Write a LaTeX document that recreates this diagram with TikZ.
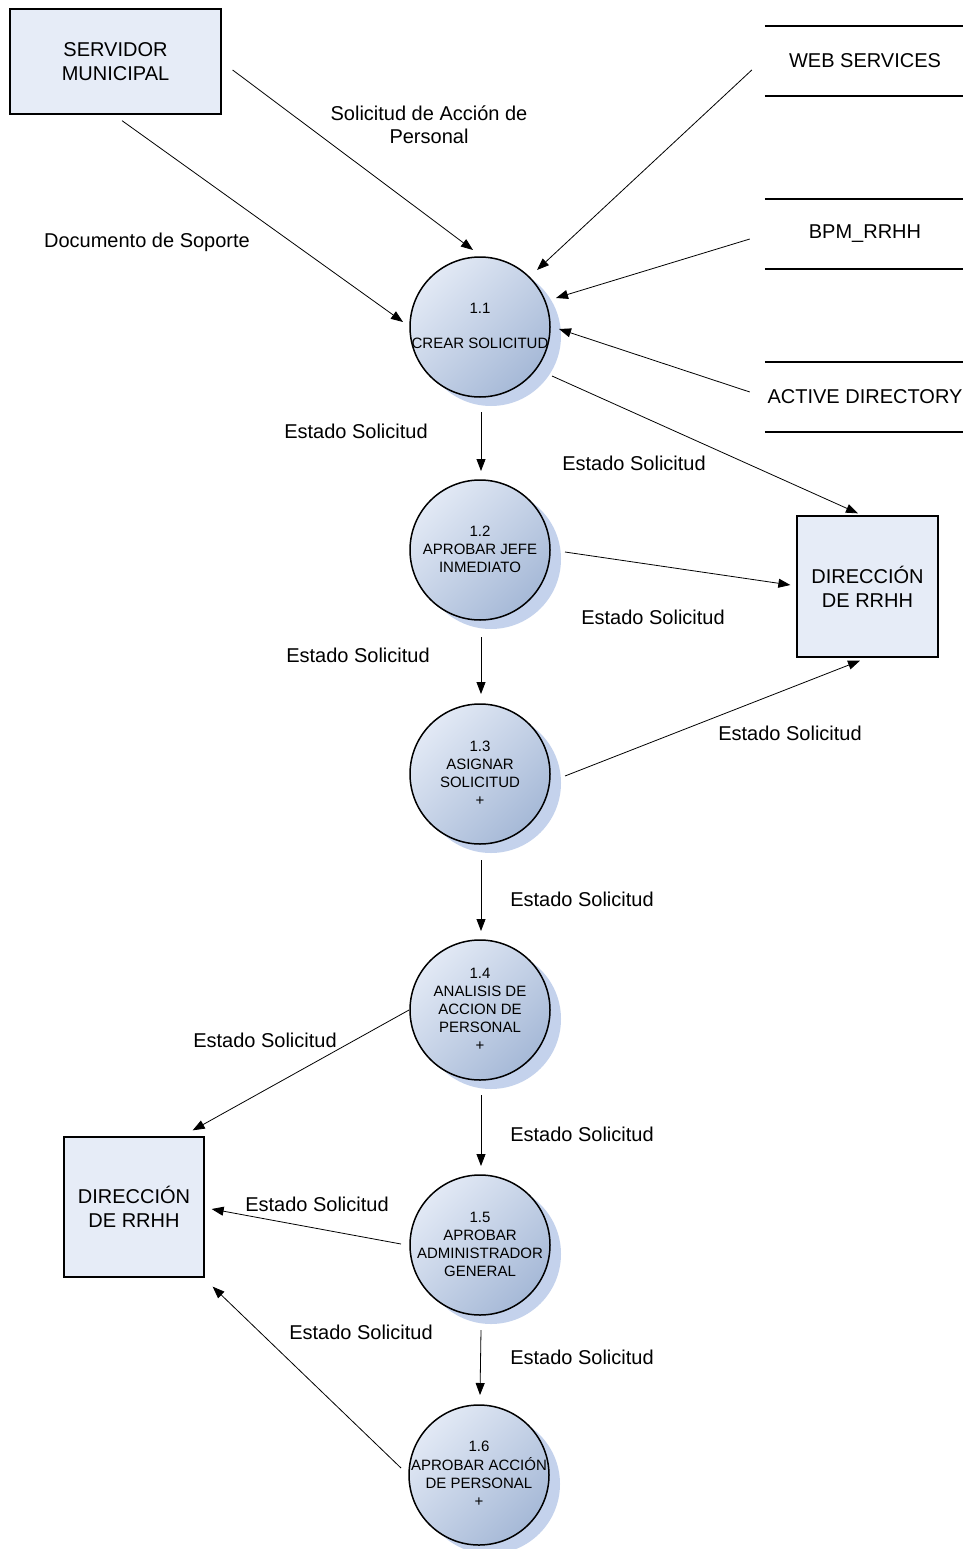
\documentclass[tikz,border=0pt]{standalone}
\usepackage{fontspec}
\setmainfont{Liberation Sans}
\usetikzlibrary{arrows.meta,shadows,calc}

\definecolor{boxfill}{RGB}{230,236,247}
\definecolor{balllight}{RGB}{226,233,245}
\definecolor{balldark}{RGB}{166,185,215}
\definecolor{ballshadow}{RGB}{196,210,236}

% process text that does not stretch the circle
\newcommand{\proctext}[1]{\raisebox{-8pt}{\makebox[0pt]{\smash{\begin{tabular}{@{}c@{}}#1\end{tabular}}}}}

\tikzset{
  entity/.style={draw, line width=1.3pt, fill=boxfill, inner sep=0pt,
    align=center, font=\fontsize{20}{24}\selectfont},
  process/.style={circle, draw, line width=1.5pt, minimum size=140pt, inner sep=0pt,
    font=\fontsize{15}{18}\selectfont,
    top color=balllight, bottom color=balldark, shading angle=45,
    drop shadow={shadow xshift=11pt, shadow yshift=-9pt, opacity=1, fill=ballshadow}},
  store/.style={minimum width=200pt, minimum height=70pt, inner sep=0pt,
    font=\fontsize{20}{24}\selectfont},
  storeline/.style={line width=1.5pt},
  flow/.style={line width=0.8pt, -{Triangle[length=12pt,width=9pt]}},
  lbl/.style={align=center, font=\fontsize{20}{23}\selectfont, inner sep=0pt}
}

\begin{document}
\begin{tikzpicture}[x=1pt, y=-1pt]
\useasboundingbox (0,0) rectangle (963,1549);

% external entities
\node[entity, minimum width=211pt, minimum height=105pt] (srv) at (115.5,61.5) {SERVIDOR\\MUNICIPAL};
\node[entity, minimum width=141pt, minimum height=141pt] (dirR) at (867.5,586.5) {DIRECCIÓN\\DE RRHH};
\node[entity, minimum width=140pt, minimum height=140pt] (dirL) at (134,1207) {DIRECCIÓN\\DE RRHH};

% data stores
\node[store] (ws) at (865,61) {WEB SERVICES};
\node[store] (bpm) at (865,234) {BPM\_RRHH};
\node[store] (ad) at (865,397) {ACTIVE DIRECTORY};
\foreach \s in {ws,bpm,ad}{
  \draw[storeline] (\s.north west) -- (\s.north east) (\s.south west) -- (\s.south east);
}

% processes
\node[process] (p1) at (480,327) {\proctext{1.1\\[17pt]CREAR SOLICITUD}};
\node[process] (p2) at (480,550) {\proctext{1.2\\APROBAR JEFE\\INMEDIATO}};
\node[process] (p3) at (480,774) {\proctext{1.3\\ASIGNAR\\SOLICITUD\\+}};
\node[process] (p4) at (480,1010) {\proctext{1.4\\ANALISIS DE\\ACCION DE\\PERSONAL\\+}};
\node[process] (p5) at (480,1245) {\proctext{1.5\\APROBAR\\ADMINISTRADOR\\GENERAL}};
\node[process] (p6) at (479,1475) {\proctext{1.6\\APROBAR ACCIÓN\\DE PERSONAL\\+}};

% flows into 1.1
\draw[flow] ($(srv.east)+(11,8.5)$) -- ($(p1)+(-7,-77)$);
\draw[flow] ($(srv.south)+(6.5,6)$) -- ($(p1)+(-77,-5)$);
\draw[flow] ($(ws.west)+(-13,9)$) -- ($(p1)+(57,-57)$);
\draw[flow] ($(bpm.west)+(-15,5)$) -- ($(p1)+(76,-29)$);
\draw[flow] ($(ad.west)+(-15,-5)$) -- ($(p1)+(79,2)$);

% status flows
\draw[flow] ($(p1)+(72,49)$) -- ($(dirR.north)+(-9.5,-2)$);
\draw[flow] ($(p1)+(1,85)$) -- ($(p2)+(1,-79)$);
\draw[flow] ($(p2)+(85,2)$) -- ($(dirR.west)+(-6,-1.5)$);
\draw[flow] ($(p2)+(1,87)$) -- ($(p3)+(1,-80)$);
\draw[flow] ($(p3)+(85,2)$) -- ($(dirR.south)+(-7.5,3)$);
\draw[flow] ($(p3)+(1,86)$) -- ($(p4)+(1,-79)$);
\draw[flow] ($(p4)+(-71,0)$) -- ($(dirL.north east)+(-12,-6)$);
\draw[flow] ($(p4)+(1,85)$) -- ($(p5)+(1,-79)$);
\draw[flow] ($(p5)+(-79,-1)$) -- ($(dirL.east)+(7,2)$);
\draw[flow] ($(p5)+(1,85)$) -- ($(p6)+(1,-80)$);
\draw[flow] ($(p6)+(-78,-7)$) -- ($(dirL.south east)+(8,9)$);

% labels
\node[lbl] (l1) at (429,125) {Solicitud de Acción de\\Personal};
\node[lbl] (l2) at (147,242) {Documento de Soporte};
\node[lbl] (l3) at (356,431) {Estado Solicitud};
\node[lbl] (l4) at (634,463) {Estado Solicitud};
\node[lbl] (l5) at (653,617) {Estado Solicitud};
\node[lbl] (l6) at (358,655) {Estado Solicitud};
\node[lbl] (l7) at (790,733) {Estado Solicitud};
\node[lbl] (l8) at (582,899) {Estado Solicitud};
\node[lbl] (l9) at (265,1040) {Estado Solicitud};
\node[lbl] (l10) at (582,1134) {Estado Solicitud};
\node[lbl] (l11) at (317,1204) {Estado Solicitud};
\node[lbl] (l12) at (361,1332) {Estado Solicitud};
\node[lbl] (l13) at (582,1357) {Estado Solicitud};
\end{tikzpicture}
\end{document}
